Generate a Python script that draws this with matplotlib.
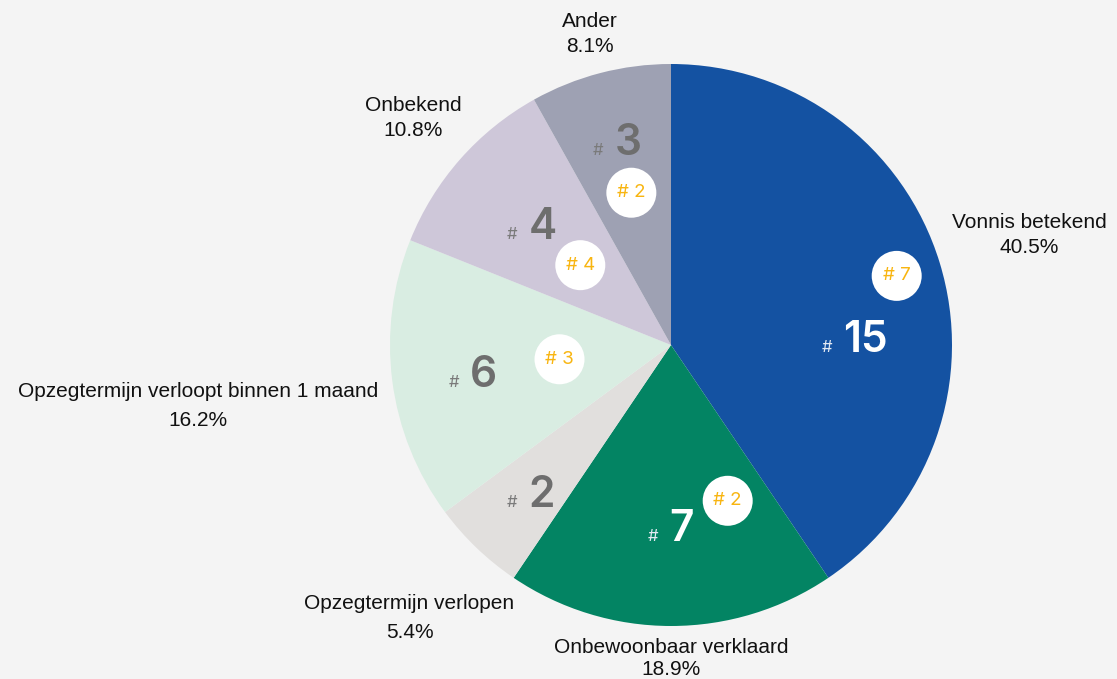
import matplotlib.pyplot as plt
import numpy as np
from matplotlib.patches import Circle
from matplotlib.offsetbox import TextArea, HPacker, AnnotationBbox

# data
categories = ["Vonnis betekend", "Onbewoonbaar verklaard", "Opzegtermijn verlopen",
              "Opzegtermijn verloopt binnen 1 maand", "Onbekend", "Ander"]
counts = [15, 7, 2, 6, 4, 3]
sub_counts = [7, 2, None, 3, 4, 2]

# style
colors = ["#1452a2", "#038463", "#e1dfdd", "#d9ede2", "#cec7d9", "#9ea1b3"]
dark = [True, True, False, False, False, False]
W, H = 1117, 679
cx, cy, R = 671, H - 345, 281
num_pos = [(-14, 0.655), (0, 0.64), (0, 0.72), (0, 0.71), (0, 0.66), (0, 0.76)]
circ_pos = [(0, 0.84), (20, 0.59), None, (0, 0.40), (0, 0.43), (0, 0.56)]
lab_r = [1.333, 1.114, 1.345, 1.697, 1.222, 1.142]
lab_gap = [25, 22, 29, 29, 25, 25]

plt.rcParams['font.family'] = ['Liberation Sans', 'DejaVu Sans']
fig = plt.figure(figsize=(W / 100, H / 100), dpi=100, facecolor="#f4f4f4")
ax = fig.add_axes([0, 0, 1, 1])
ax.set_facecolor("#f4f4f4")

wedges, _ = ax.pie(counts, colors=colors, startangle=90, counterclock=False,
                   radius=R, center=(cx, cy), wedgeprops=dict(linewidth=0))
ax.set_xlim(0, W)
ax.set_ylim(0, H)
ax.axis("off")

total = sum(counts)


def polar(ang, r):
    a = np.deg2rad(ang)
    return cx + r * np.cos(a), cy + r * np.sin(a)


for i, w in enumerate(wedges):
    mid = (w.theta1 + w.theta2) / 2

    # big count with small hash
    off, rf = num_pos[i]
    x, y = polar(mid + off, rf * R)
    hc = "#e4eaf3" if dark[i] else "#7a7a7a"
    nc = "white" if dark[i] else "#6e6e6e"
    h = TextArea("#", textprops=dict(color=hc, fontsize=12, family="Inter"))
    n = TextArea(str(counts[i]), textprops=dict(color=nc, fontsize=30.5,
                                                 family="Inter", weight="semibold"))
    box = HPacker(children=[h, n], align="baseline", pad=0, sep=8)
    ax.add_artist(AnnotationBbox(box, (x, y), frameon=False, pad=0,
                                 box_alignment=(0.5, 0.62)))

    # white bubble with sub count
    if sub_counts[i] is not None:
        off, rf = circ_pos[i]
        x, y = polar(mid + off, rf * R)
        ax.add_patch(Circle((x, y), 25, color="white", lw=0, zorder=3))
        ax.text(x, y, "# %d" % sub_counts[i], color="#f8b511", fontsize=13.5,
                family="Inter", ha="center", va="center", zorder=4)

    # outer label
    x, y = polar(mid, lab_r[i] * R)
    g = lab_gap[i] / 2
    ax.text(x, y + g, categories[i], ha="center", va="center", fontsize=15, color="#111111")
    ax.text(x, y - g, "%.1f%%" % (100 * counts[i] / total), ha="center", va="center",
            fontsize=15, color="#111111")

fig.savefig("out.png", dpi=100, facecolor=fig.get_facecolor())
